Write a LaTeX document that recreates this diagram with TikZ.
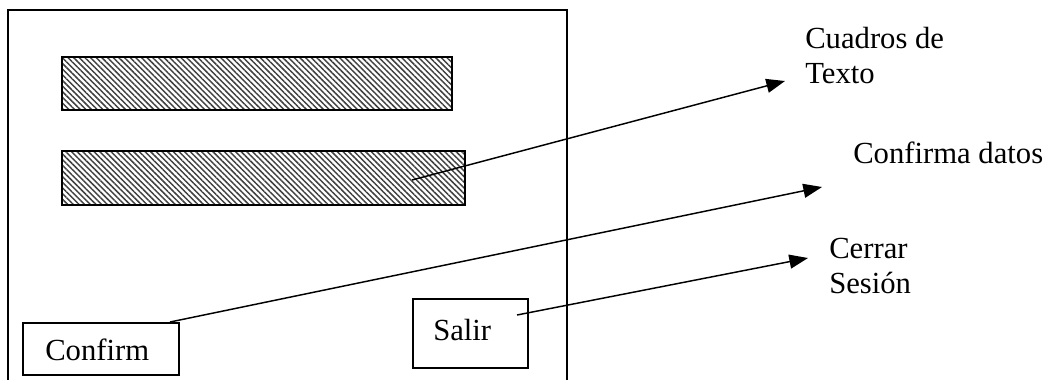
\documentclass[tikz,border=0pt]{standalone}
\usepackage{fontspec}
\setmainfont{Liberation Serif}
\usetikzlibrary{arrows.meta,patterns.meta}
\begin{document}
\begin{tikzpicture}[x=0.75pt,y=-0.75pt,
  frame/.style={line width=1.4pt},
  hatchbox/.style={draw,line width=1.3pt,inner sep=0pt,
    pattern={Lines[angle=-45,distance=3pt,line width=1.1pt]},pattern color=black!75},
  btn/.style={draw,line width=1pt,inner sep=0pt},
  lbl/.style={inner sep=0pt,font=\fontsize{23}{26.25}\selectfont},
  conn/.style={line width=1.1pt,-{Triangle[length=14pt,width=10.5pt]}}]
\useasboundingbox (0,0) rectangle (1055,380);
\draw[frame] (8,380) -- (8,10) -- (567,10) -- (567,380);
% text boxes
\node[hatchbox,minimum width=292.5pt,minimum height=39.75pt] (t1) at (257,83.5) {};
\node[hatchbox,minimum width=302.25pt,minimum height=40.5pt] (t2) at (263.5,178) {};
% buttons
\node[btn,minimum width=117pt,minimum height=39pt] (confirm) at (101,349) {};
\node[lbl,anchor=base west] (confirmtxt) at (45,360) {Confirm};
\node[btn,minimum width=86.25pt,minimum height=51.75pt] (salir) at (470.5,333.5) {};
\node[lbl,anchor=base west] (salirtxt) at (433,340) {Salir};
% labels
\node[lbl,anchor=base west,align=left] (l1) at (805,83) {Cuadros de\\Texto};
\node[lbl,anchor=base west] (l2) at (853,163) {Confirma datos};
\node[lbl,anchor=base west,align=left] (l3) at (829,293) {Cerrar\\Sesión};
% connector ends
\coordinate (s1) at (412,180);
\coordinate (e1) at (785,81);
\coordinate (s2) at (170,322);
\coordinate (e2) at (822,187);
\coordinate (s3) at (517,315);
\coordinate (e3) at (808,258);
\draw[conn] (s1) -- (e1);
\draw[conn] (s2) -- (e2);
\draw[conn] (s3) -- (e3);
\end{tikzpicture}
\end{document}
